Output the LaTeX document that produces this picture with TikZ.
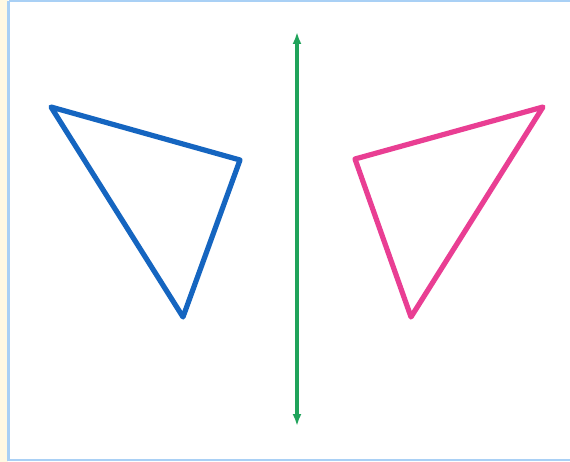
\documentclass[tikz,border=0pt]{standalone}
\usetikzlibrary{arrows.meta}
\definecolor{bluetri}{HTML}{1565C0}
\definecolor{pinktri}{HTML}{E93E93}
\definecolor{axisgreen}{HTML}{1FA35A}
\definecolor{frameblue}{HTML}{A9D0F5}
\definecolor{cream}{HTML}{FFF9E3}
\tikzset{
  tri/.style={line width=5.2pt, line join=round, line cap=round},
  mirror/.style={line width=3.2pt, {Latex[length=12pt,width=9pt]}-{Latex[length=12pt,width=9pt]}},
}
\begin{document}
\begin{tikzpicture}[x=1pt,y=-1pt]
\useasboundingbox (0,0) rectangle (570,462);
\fill[cream] (0,0) rectangle (8,462);
\fill[white] (8,1) rectangle (570,460);
\draw[frameblue, line width=2.2pt] (8.5,1) -- (8.5,460) -- (571,460);
\draw[frameblue, line width=2.2pt] (8.5,1) -- (571,1);
\coordinate (b1) at (51,107);
\coordinate (b2) at (240,160);
\coordinate (b3) at (183,317);
\coordinate (p1) at (355,159);
\coordinate (p2) at (543,107);
\coordinate (p3) at (411,317);
\coordinate (mtop) at (297,32);
\coordinate (mbot) at (297,426);
\draw[tri, bluetri] (b1) -- (b2) -- (b3) -- cycle;
\draw[tri, pinktri] (p1) -- (p2) -- (p3) -- cycle;
\draw[mirror, axisgreen] (mbot) -- (mtop);
\end{tikzpicture}
\end{document}
